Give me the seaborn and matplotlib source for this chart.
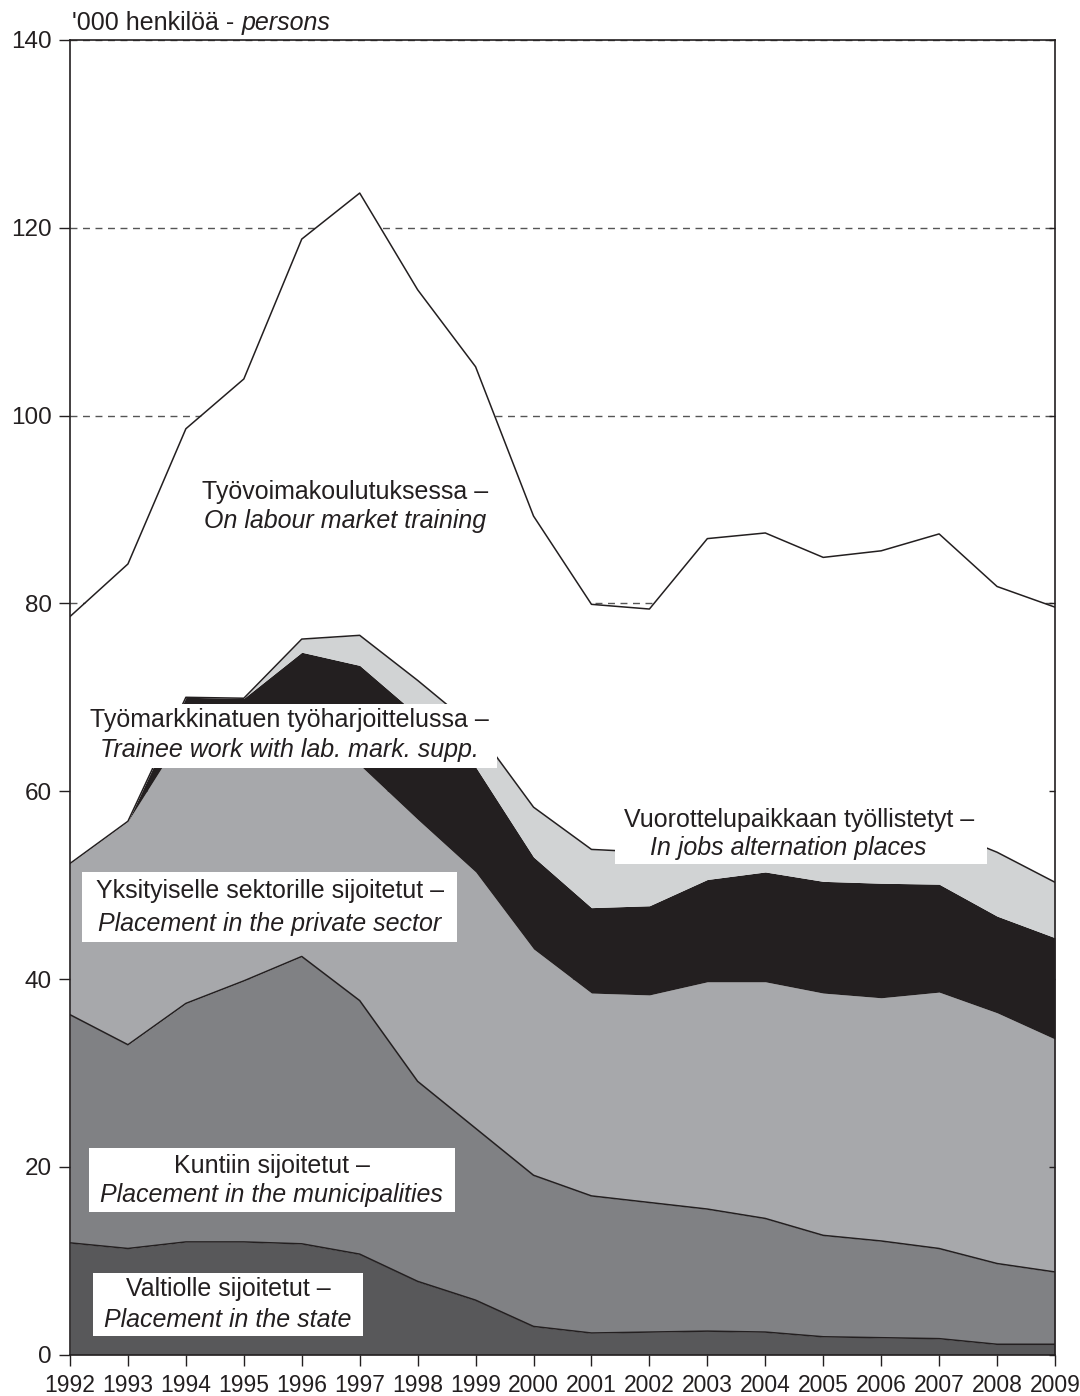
import numpy as np
import matplotlib.pyplot as plt
from matplotlib.patches import Rectangle
import seaborn as sns

# '000 persons, one value per year for each group (stack order bottom -> top)
years = list(range(1992, 2010))
state = [11.9, 11.3, 12.0, 12.0, 11.8, 10.7, 7.8, 5.8, 3.0, 2.3, 2.4, 2.5, 2.4, 1.9, 1.8, 1.7, 1.1, 1.1]
municipal = [24.3, 21.7, 25.4, 27.8, 30.6, 27.0, 21.3, 18.3, 16.1, 14.6, 13.8, 13.0, 12.1, 10.8, 10.3, 9.6, 8.6, 7.7]
private = [16.1, 23.8, 29.2, 26.2, 22.1, 25.1, 27.9, 27.3, 24.1, 21.6, 22.1, 24.2, 25.2, 25.8, 25.9, 27.3, 26.7, 24.8]
trainee = [0.0, 0.0, 3.4, 3.9, 10.3, 10.6, 11.1, 11.2, 9.8, 9.1, 9.5, 10.9, 11.7, 11.9, 12.2, 11.5, 10.3, 10.8]
alternation = [0.0, 0.0, 0.0, 0.0, 1.4, 3.2, 3.7, 4.1, 5.3, 6.2, 5.7, 6.0, 5.9, 5.9, 5.8, 5.9, 6.8, 5.9]
training = [26.3, 27.4, 28.6, 34.0, 42.6, 47.1, 41.6, 38.5, 31.0, 26.1, 25.9, 30.3, 30.2, 28.6, 29.6, 31.4, 28.3, 29.3]

colors = ["#58585a", "#808184", "#a7a8ab", "#231f20", "#d1d3d4", "#ffffff"]
ink = "#231f20"

sns.set_theme(style="white")
plt.rcParams['font.family'] = ['Liberation Sans', 'DejaVu Sans']

fig = plt.figure(figsize=(10.8, 13.96), dpi=100)
ax = fig.add_axes([70 / 1080, 41.4 / 1396, 985 / 1080, 1314.6 / 1396])

layers = [state, municipal, private, trainee, alternation, training]
ax.stackplot(years, *layers, colors=colors, linewidth=0, zorder=2)

# outlines on top of selected layers
cum = np.cumsum(np.array(layers), axis=0)
for i in [0, 1, 4, 5]:
    sns.lineplot(x=years, y=cum[i], color=ink, linewidth=1.1, ax=ax, zorder=3)

ax.set_xlim(1992, 2009)
ax.set_ylim(0, 140)
ax.set_xticks(years)
ax.set_yticks(range(0, 141, 20))
ax.yaxis.grid(True, color="#555555", linestyle=(0, (5, 4)), linewidth=1)
ax.xaxis.grid(False)
ax.set_axisbelow(True)

for s in ax.spines.values():
    s.set_visible(True)
    s.set_color(ink)
    s.set_linewidth(1.2)

ax.tick_params(axis="both", direction="out", length=8, width=1, color=ink,
               labelcolor=ink, bottom=True, left=True)
ax.tick_params(axis="x", pad=6, labelsize=16.5)
ax.tick_params(axis="y", pad=5, labelsize=17.5)

# tiny inward ticks on the right spine
ax2 = ax.twinx()
ax2.set_ylim(0, 140)
ax2.set_yticks(range(0, 141, 20))
ax2.tick_params(axis="y", direction="in", length=4, width=1, color=ink, labelright=False)
ax2.grid(False)
for s in ax2.spines.values():
    s.set_visible(False)


def label(x0, x1, y0, y1, l1, l2, ly1, ly2, lx1=None, lx2=None, box=True):
    if box:
        ax.add_patch(Rectangle((x0, y0), x1 - x0, y1 - y0, facecolor="white",
                               edgecolor="none", zorder=4))
    cx = (x0 + x1) / 2
    ax.text(lx1 if lx1 else cx, ly1, l1, ha="center", va="center", fontsize=18,
            color=ink, zorder=5)
    ax.text(lx2 if lx2 else cx, ly2, l2, ha="center", va="center", fontsize=18,
            style="italic", color=ink, zorder=5)


label(1992.3, 2001.2, 87.0, 93.5, "Työvoimakoulutuksessa –",
      "On labour market training", 91.9, 88.8, box=False)
label(1992.22, 1999.37, 62.5, 69.3, "Työmarkkinatuen työharjoittelussa –",
      "Trainee work with lab. mark. supp.", 67.6, 64.4)
label(2001.41, 2007.83, 52.3, 58.9, "Vuorottelupaikkaan työllistetyt –",
      "In jobs alternation places", 56.9, 53.9, lx1=2004.58, lx2=2004.39)
label(1992.21, 1998.68, 43.9, 51.4, "Yksityiselle sektorille sijoitetut –",
      "Placement in the private sector", 49.4, 45.9)
label(1992.33, 1998.64, 15.2, 22.0, "Kuntiin sijoitetut –",
      "Placement in the municipalities", 20.1, 17.0)
label(1992.40, 1997.06, 2.0, 8.7, "Valtiolle sijoitetut –",
      "Placement in the state", 7.0, 3.7)

t1 = ax.text(0.002, 1.004, "'000 henkilöä - ", transform=ax.transAxes,
             ha="left", va="bottom", fontsize=18, color=ink)
ax.annotate("persons", xy=(1, 0), xycoords=t1, ha="left", va="bottom",
            fontsize=18, style="italic", color=ink)

fig.savefig("out.png", dpi=100)
